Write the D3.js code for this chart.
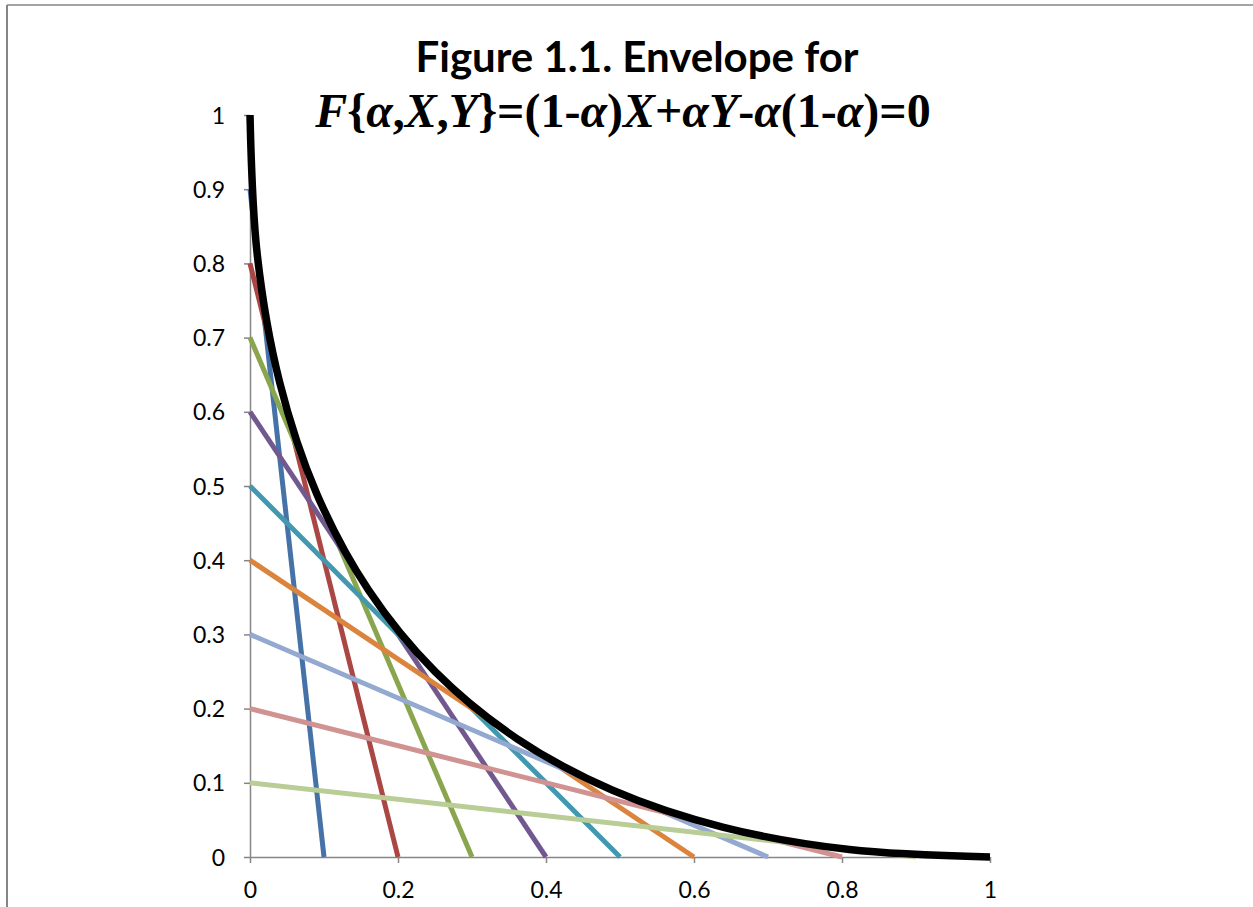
<!DOCTYPE html>
<html>
<head>
<meta charset="utf-8">
<script src="https://cdn.jsdelivr.net/npm/d3@7"></script>
<style>
  body { margin: 0; background: #fff; }
  svg { display: block; }
</style>
</head>
<body>
<svg width="1253" height="907"></svg>
<script>
// tangent lines: (0, yStart) -> (xEnd, 0), one per alpha
var alphas = [0.1, 0.2, 0.3, 0.4, 0.5, 0.6, 0.7, 0.8, 0.9];
var lineStartY = [0.9, 0.8, 0.7, 0.6, 0.5, 0.4, 0.3, 0.2, 0.1];
var lineEndX = [0.1, 0.2, 0.3, 0.4, 0.5, 0.6, 0.7, 0.8, 0.9];
var lineColors = ["#4572A7", "#AA4643", "#89A54E", "#71588F", "#4198AF",
                  "#DB843D", "#93A9CF", "#D19392", "#B9CD96"];

// envelope points
var envX = [0, 0.01, 0.04, 0.09, 0.16, 0.25, 0.36, 0.49, 0.64, 0.81, 1];
var envY = [1, 0.81, 0.64, 0.49, 0.36, 0.25, 0.16, 0.09, 0.04, 0.01, 0];

var xTicks = [0, 0.2, 0.4, 0.6, 0.8, 1];
var yTicks = [0, 0.1, 0.2, 0.3, 0.4, 0.5, 0.6, 0.7, 0.8, 0.9, 1];

var svg = d3.select("svg");

var x = d3.scaleLinear().domain([0, 1]).range([250, 990]);
var y = d3.scaleLinear().domain([0, 1]).range([857, 115]);

// chart frame (only left and top edges visible)
svg.append("line").attr("x1", 7).attr("y1", 5).attr("x2", 1253).attr("y2", 5)
    .attr("stroke", "#868686").attr("stroke-width", 1.5);
svg.append("line").attr("x1", 7).attr("y1", 5).attr("x2", 7).attr("y2", 907)
    .attr("stroke", "#868686").attr("stroke-width", 2);

// axes
var xAxis = d3.axisBottom(x).tickValues(xTicks).tickSizeInner(6).tickSizeOuter(0)
    .tickPadding(19).tickFormat(d3.format("~g"));
var yAxis = d3.axisLeft(y).tickValues(yTicks).tickSizeInner(6).tickSizeOuter(0)
    .tickPadding(19).tickFormat(d3.format("~g"));

var gx = svg.append("g").attr("transform", "translate(0," + y(0) + ")").call(xAxis);
var gy = svg.append("g").attr("transform", "translate(" + x(0) + ",0)").call(yAxis);

[gx, gy].forEach(function (g) {
    g.selectAll("path, line").attr("stroke", "#868686").attr("stroke-width", 1.5);
    g.selectAll("text")
        .attr("fill", "#000")
        .attr("font-family", "Lato, 'Open Sans', sans-serif")
        .attr("font-size", 23);
});
gy.selectAll("text").attr("dy", "0.35em");

// tangent lines
var line = d3.line()
    .x(function (d) { return x(d[0]); })
    .y(function (d) { return y(d[1]); });

alphas.forEach(function (a, i) {
    svg.append("path")
        .datum([[0, lineStartY[i]], [lineEndX[i], 0]])
        .attr("d", line)
        .attr("fill", "none")
        .attr("stroke", lineColors[i])
        .attr("stroke-width", 5)
        .attr("stroke-linecap", "butt");
});

// envelope
var envLine = d3.line()
    .x(function (d) { return x(d[0]); })
    .y(function (d) { return y(d[1]); })
    .curve(d3.curveCatmullRom.alpha(0.5));

svg.append("path")
    .datum(d3.zip(envX, envY))
    .attr("d", envLine)
    .attr("fill", "none")
    .attr("stroke", "#000")
    .attr("stroke-width", 7.5)
    .attr("stroke-linejoin", "round");

// title
svg.append("text")
    .attr("x", 637).attr("y", 72)
    .attr("text-anchor", "middle")
    .attr("font-family", "Lato, 'Open Sans', sans-serif")
    .attr("font-weight", "bold")
    .attr("font-size", 42)
    .text("Figure 1.1. Envelope for");

var t2 = svg.append("text")
    .attr("x", 623).attr("y", 127)
    .attr("text-anchor", "middle")
    .attr("font-family", "'Liberation Serif', 'Times New Roman', serif")
    .attr("font-weight", "bold")
    .attr("font-size", 48);

var parts = [["F", true], ["{", false], ["α", true], [",", false], ["X", true],
             [",", false], ["Y", true], ["}=(1-", false], ["α", true], [")", false],
             ["X", true], ["+", false], ["αY", true], ["-", false], ["α", true],
             ["(1-", false], ["α", true], [")=0", false]];
parts.forEach(function (p) {
    t2.append("tspan").attr("font-style", p[1] ? "italic" : "normal").text(p[0]);
});
</script>
</body>
</html>
